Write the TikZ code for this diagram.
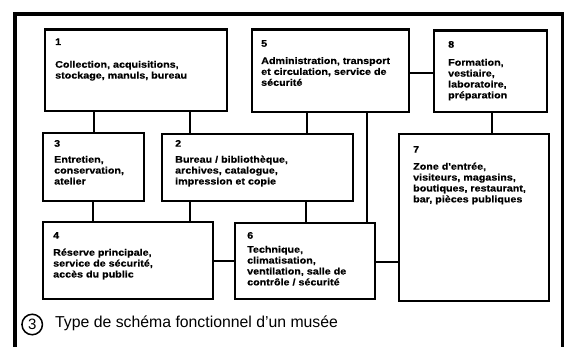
\documentclass[tikz,border=0pt]{standalone}
\usepackage{fontspec}
\setmainfont{Liberation Sans}
\newfontfamily\bx{Liberation Sans Bold}[FakeStretch=1.13,FakeBold=0.5]
\usetikzlibrary{fit}
\begin{document}
\begin{tikzpicture}[x=1pt,y=-1pt,
  box/.style={draw, line width=2.4pt, inner sep=0pt},
  lbl/.style={anchor=base west, align=left, inner sep=0pt,
    font=\bx\fontsize{9.5}{10.9}\selectfont},
  link/.style={line width=2pt},
  frame/.style={line width=3.8pt}]
\useasboundingbox (0,0) rectangle (568,347);
\clip (0,0) rectangle (568,347);
\fill[white] (0,0) rectangle (568,347);
% outer frame (open at the bottom edge of the picture)
\draw[frame] (15.3,360) -- (15.3,13.7) -- (562.5,13.7) -- (562.5,360);

% boxes
\path (45,29.5) coordinate (b1nw) (227,111) coordinate (b1se)
      (252,29.5) coordinate (b5nw) (409,112) coordinate (b5se)
      (434,30.5) coordinate (b8nw) (547,112) coordinate (b8se)
      (43,133) coordinate (b3nw) (144,201) coordinate (b3se)
      (162,134) coordinate (b2nw) (353,201) coordinate (b2se)
      (399,134) coordinate (b7nw) (549,301) coordinate (b7se)
      (43,222) coordinate (b4nw) (213,299) coordinate (b4se)
      (235,223) coordinate (b6nw) (375,299) coordinate (b6se);
\foreach \b in {b1,b5,b8,b3,b2,b7,b4,b6}
  \node[box, fit=(\b nw)(\b se)] (\b) {};

% texts (anchor = baseline of the last line)
\node[lbl] (t1) at (55,78.6) {1\\[11.8pt]Collection, acquisitions,\\stockage, manuls, bureau};
\node[lbl] (t5) at (261,85.8) {5\\[6.4pt]Administration, transport\\et circulation, service de\\sécurité};
\node[lbl] (t8) at (448,98.4) {8\\[7.1pt]Formation,\\vestiaire,\\laboratoire,\\préparation};
\node[lbl] (t3) at (54,184.5) {3\\[5.1pt]Entretien,\\conservation,\\atelier};
\node[lbl] (t2) at (175,184.5) {2\\[5.1pt]Bureau / bibliothèque,\\archives, catalogue,\\impression et copie};
\node[lbl] (t7) at (413,202.4) {7\\[6.1pt]Zone d'entrée,\\visiteurs, magasins,\\boutiques, restaurant,\\bar, pièces publiques};
\node[lbl] (t4) at (53,277.5) {4\\[6.1pt]Réserve principale,\\service de sécurité,\\accès du public};
\node[lbl] (t6) at (247,285.4) {6\\[3.1pt]Technique,\\climatisation,\\ventilation, salle de\\contrôle / sécurité};

% connectors
\draw[link] (94,0 |- b1.south) -- (94,0 |- b3.north);
\draw[link] (190,0 |- b1.south) -- (190,0 |- b2.north);
\draw[link] (306.5,0 |- b5.south) -- (306.5,0 |- b2.north);
\draw[link] (367,0 |- b5.south) -- (367,0 |- b6.north);
\draw[link] (0,73 -| b5.east) -- (0,73 -| b8.west);
\draw[link] (492,0 |- b8.south) -- (492,0 |- b7.north);
\draw[link] (93,0 |- b3.south) -- (93,0 |- b4.north);
\draw[link] (190,0 |- b2.south) -- (190,0 |- b4.north);
\draw[link] (306,0 |- b2.south) -- (306,0 |- b6.north);
\draw[link] (0,261 -| b4.east) -- (0,261 -| b6.west);
\draw[link] (0,262 -| b6.east) -- (0,262 -| b7.west);

% caption
\node[draw, circle, line width=1.5pt, minimum size=20.5pt, inner sep=0pt,
  font=\fontsize{15}{15}\selectfont] (num) at (32.2,324.5) {3};
\node[anchor=base west, inner sep=0pt, font=\fontsize{15.8}{16}\selectfont]
  (cap) at (55,328) {Type de schéma fonctionnel d'un musée};
\end{tikzpicture}
\end{document}
